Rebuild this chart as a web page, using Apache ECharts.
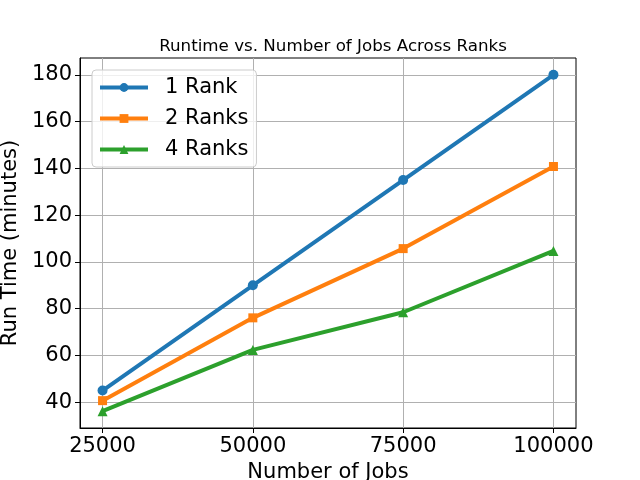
<!DOCTYPE html>
<html><head><meta charset="utf-8">
<script src="https://cdn.jsdelivr.net/npm/echarts@6/dist/echarts.min.js"></script>
<style>html,body{margin:0;padding:0;background:#fff}#c{width:640px;height:480px}</style>
</head><body><div id="c"></div>
<script>
const jobs = [25000, 50000, 75000, 100000];
const rank1 = [45, 90, 135, 180];
const rank2 = [40.7, 76.1, 105.7, 140.8];
const rank4 = [36.2, 62.4, 78.5, 104.7];
const xTicks = [25000, 50000, 75000, 100000];
const yTicks = [40, 60, 80, 100, 120, 140, 160, 180];
const seriesNames = ['1 Rank', '2 Ranks', '4 Ranks'];

const font = 'DejaVu Sans';
const chart = echarts.init(document.getElementById('c'), null, {renderer: 'canvas'});
function mk(name, vals, color, symbol) {
  return {
    name, type: 'line', data: jobs.map((x, i) => [x, vals[i]]),
    lineStyle: {color, width: 4}, itemStyle: {color},
    symbol, symbolSize: symbol === 'rect' ? 9 : 10,
    showSymbol: true, animation: false
  };
}
chart.setOption({
  animation: false,
  title: {text: 'Runtime vs. Number of Jobs Across Ranks', left: 328, textAlign: 'center', top: 33,
    textStyle: {fontFamily: font, fontSize: 16.7, fontWeight: 'normal', color: '#000'}},
  grid: {left: 80, right: 64, top: 58, bottom: 52, show: true, borderColor: '#000', borderWidth: 1,
    containLabel: false, outerBoundsMode: 'none'},
  legend: {
    orient: 'vertical', left: 92, top: 70, data: seriesNames,
    itemWidth: 48, itemHeight: 11, itemGap: 10,
    lineStyle: {width: 4},
    backgroundColor: 'rgba(255,255,255,0.8)', borderColor: '#cccccc', borderWidth: 1, borderRadius: 4,
    padding: [7, 8, 7, 6],
    textStyle: {fontFamily: font, fontSize: 21, color: '#000', padding: [0, 0, 0, 12]}
  },
  xAxis: {
    type: 'value', min: 21250, max: 103750,
    name: 'Number of Jobs', nameLocation: 'middle', nameGap: 34,
    nameTextStyle: {fontFamily: font, fontSize: 21, color: '#000'},
    axisLine: {lineStyle: {color: '#000', width: 1}},
    axisTick: {show: true, length: 5, customValues: xTicks, lineStyle: {color: '#000'}},
    axisLabel: {customValues: xTicks, formatter: v => String(v), fontFamily: font, fontSize: 21, color: '#000', margin: 8},
    splitLine: {show: true, lineStyle: {color: '#b0b0b0', width: 1}}
  },
  yAxis: {
    type: 'value', min: 29, max: 187.2,
    name: 'Run Time (minutes)', nameLocation: 'middle', nameGap: 58,
    nameTextStyle: {fontFamily: font, fontSize: 21, color: '#000'},
    axisLine: {show: true, lineStyle: {color: '#000', width: 1}},
    axisTick: {show: true, length: 5, customValues: yTicks, lineStyle: {color: '#000'}},
    axisLabel: {customValues: yTicks, formatter: v => String(v), fontFamily: font, fontSize: 21, color: '#000', margin: 8},
    splitLine: {show: true, lineStyle: {color: '#b0b0b0', width: 1}}
  },
  series: [
    mk(seriesNames[0], rank1, '#1f77b4', 'circle'),
    mk(seriesNames[1], rank2, '#ff7f0e', 'rect'),
    mk(seriesNames[2], rank4, '#2ca02c', 'triangle')
  ]
});
</script></body></html>
